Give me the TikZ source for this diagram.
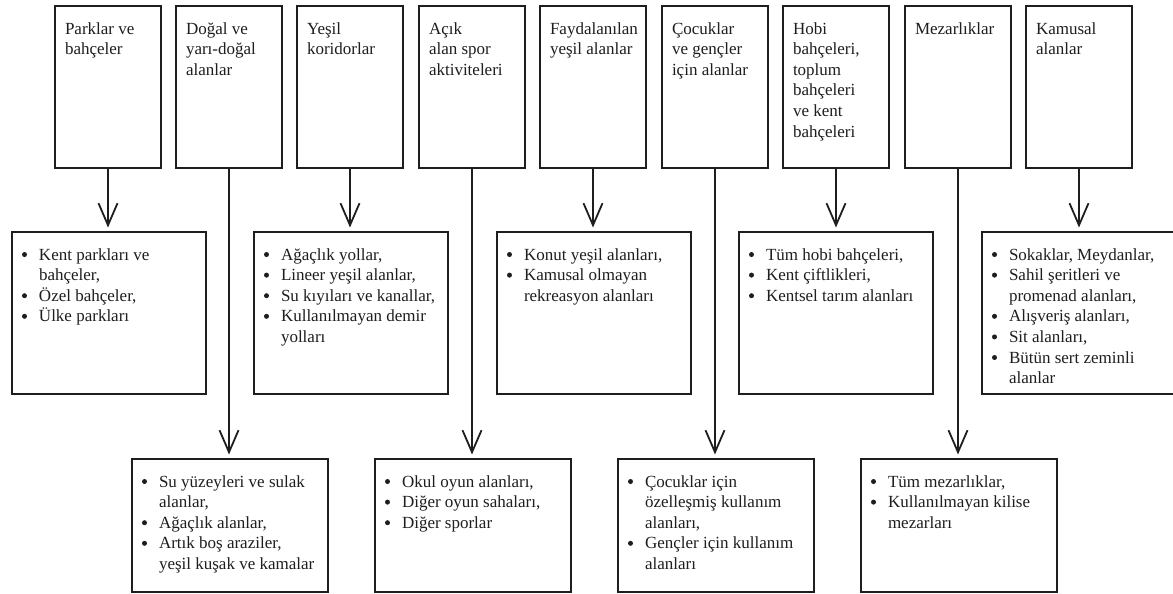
\documentclass[tikz,border=0pt]{standalone}
\usepackage{fontspec}
\setmainfont{Liberation Serif}
\usetikzlibrary{arrows.meta}

\definecolor{ink}{HTML}{1E1E1E}

% round bullet and hanging indent for the list boxes
\newcommand\bu{\makebox[17pt][l]{\raisebox{3pt}{\tikz\fill[ink] (0,0) circle (2.5pt);}}}
\newcommand\hang{\hspace*{17pt}}

\tikzset{
  x=1pt, y=-1pt,
  frame/.style={draw=ink, line width=2pt, inner sep=0pt, outer sep=0pt,
                anchor=north west, fill=white},
  catbox/.style={frame, minimum width=106pt, minimum height=162pt},
  listbox/.style={frame, minimum width=194pt, minimum height=162pt},
  lowbox/.style={frame, minimum width=196pt, minimum height=133pt},
  txt/.style={anchor=north west, inner sep=0pt, outer sep=0pt, text=ink,
              font=\fontsize{17}{20.6}\selectfont},
  conn/.style={draw=ink, line width=2pt,
               -{Straight Barb[length=22pt, width=19pt, line width=1.8pt]},
               shorten >=4.5pt}
}

% box node plus its top-left text block
\newcommand\catnode[4]{%
  \node[#1] (#2) at (#3) {};
  \node[txt] (#2t) at ([xshift=10pt, yshift=-13.6pt]#2.north west)
    {\begin{tabular}[t]{@{}l@{}}#4\end{tabular}};}

\begin{document}
\begin{tikzpicture}
\useasboundingbox (0,0) rectangle (1173,594);

% ---- categories ----
\catnode{catbox}{c1}{55,6}{Parklar ve\\bahçeler}
\catnode{catbox}{c2}{176,6}{Doğal ve\\yarı-doğal\\alanlar}
\catnode{catbox}{c3}{297,6}{Yeşil\\koridorlar}
\catnode{catbox}{c4}{419,6}{Açık\\alan spor\\aktiviteleri}
\catnode{catbox}{c5}{540,6}{Faydalanılan\\yeşil alanlar}
\catnode{catbox}{c6}{662,6}{Çocuklar\\ve gençler\\için alanlar}
\catnode{catbox}{c7}{783,6}{Hobi\\bahçeleri,\\toplum\\bahçeleri\\ve kent\\bahçeleri}
\catnode{catbox}{c8}{905,6}{Mezarlıklar}
\catnode{catbox}{c9}{1026,6}{Kamusal\\alanlar}

% ---- middle row of examples ----
\catnode{listbox}{m1}{12,232}{\bu Kent parkları ve\\\hang bahçeler,\\\bu Özel bahçeler,\\\bu Ülke parkları}
\catnode{listbox}{m3}{254,232}{\bu Ağaçlık yollar,\\\bu Lineer yeşil alanlar,\\\bu Su kıyıları ve kanallar,\\\bu Kullanılmayan demir\\\hang yolları}
\catnode{listbox}{m5}{497,232}{\bu Konut yeşil alanları,\\\bu Kamusal olmayan\\\hang rekreasyon alanları}
\catnode{listbox}{m7}{739,232}{\bu Tüm hobi bahçeleri,\\\bu Kent çiftlikleri,\\\bu Kentsel tarım alanları}
\catnode{listbox}{m9}{982,232}{\fontsize{17}{19.5}\selectfont\bu Sokaklar, Meydanlar,\\\bu Sahil şeritleri ve\\\hang promenad alanları,\\\bu Alışveriş alanları,\\\bu Sit alanları,\\\bu Bütün sert zeminli\\\hang alanlar}

% ---- bottom row of examples ----
\catnode{lowbox}{b2}{132,459}{\bu Su yüzeyleri ve sulak\\\hang alanlar,\\\bu Ağaçlık alanlar,\\\bu Artık boş araziler,\\\hang yeşil kuşak ve kamalar}
\catnode{lowbox}{b4}{375,459}{\bu Okul oyun alanları,\\\bu Diğer oyun sahaları,\\\bu Diğer sporlar}
\catnode{lowbox}{b6}{618,459}{\bu Çocuklar için\\\hang özelleşmiş kullanım\\\hang alanları,\\\bu Gençler için kullanım\\\hang alanları}
\catnode{lowbox}{b8}{861,459}{\bu Tüm mezarlıklar,\\\bu Kullanılmayan kilise\\\hang mezarları}

% ---- connectors ----
\foreach \c/\t in {c1/m1, c3/m3, c5/m5, c7/m7, c9/m9,
                   c2/b2, c4/b4, c6/b6, c8/b8}
  \draw[conn] (\c.south) -- (\c.south |- \t.north);
\end{tikzpicture}
\end{document}
